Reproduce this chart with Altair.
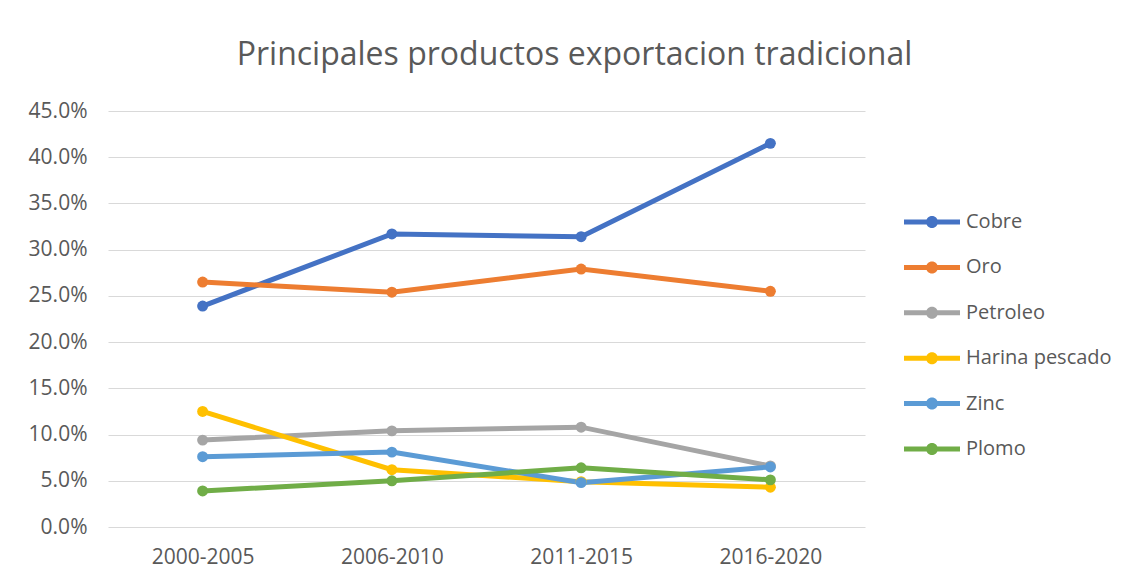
import altair as alt
import pandas as pd

periods = ["2000-2005", "2006-2010", "2011-2015", "2016-2020"]
series = ["Cobre", "Oro", "Petroleo", "Harina pescado", "Zinc", "Plomo"]
cobre = [0.239, 0.317, 0.314, 0.415]
oro = [0.265, 0.254, 0.279, 0.255]
petroleo = [0.094, 0.104, 0.108, 0.066]
harina = [0.125, 0.062, 0.049, 0.043]
zinc = [0.076, 0.081, 0.048, 0.065]
plomo = [0.039, 0.050, 0.064, 0.051]
colors = ["#4472C4", "#ED7D31", "#A5A5A5", "#FFC000", "#5B9BD5", "#70AD47"]

values = [cobre, oro, petroleo, harina, zinc, plomo]
rows = []
for si, (name, vals) in enumerate(zip(series, values)):
    for p, v in zip(periods, vals):
        rows.append({"periodo": p, "producto": name, "valor": v, "orden": si})
df = pd.DataFrame(rows)

FONT = "Open Sans"
GREY = "#595959"

sym_path = ("M-2.8,-0.25L2.8,-0.25L2.8,0.25L-2.8,0.25Z "
            "M-0.6,0A0.6,0.6 0 1,1 0.6,0A0.6,0.6 0 1,1 -0.6,0Z")

color = alt.Color(
    "producto:N",
    scale=alt.Scale(domain=series, range=colors),
    legend=alt.Legend(
        title=None,
        orient="none",
        legendX=814,
        legendY=101,
        symbolType=sym_path,
        symbolSize=400,
        symbolStrokeWidth=0,
        labelOffset=24,
        rowPadding=25.4,
        padding=0,
        labelFont=FONT,
        labelFontSize=20,
        labelColor=GREY,
    ),
)

x = alt.X(
    "periodo:O",
    sort=periods,
    scale=alt.Scale(paddingOuter=0.5, paddingInner=0),
    axis=alt.Axis(title=None, labelAngle=0, ticks=False, domain=False, grid=False,
                  labelPadding=19, labelFont=FONT, labelFontSize=21,
                  labelColor=GREY),
)
y = alt.Y(
    "valor:Q",
    scale=alt.Scale(domain=[0, 0.45], nice=False),
    axis=alt.Axis(title=None, format=".1%", values=[i * 0.05 for i in range(10)],
                  ticks=False, domain=False, labelPadding=21,
                  labelFont=FONT, labelFontSize=21, labelColor=GREY,
                  gridColor="#D9D9D9", gridWidth=1),
)

base = alt.Chart(df)
lines = base.mark_line(strokeWidth=5).encode(x=x, y=y, color=color, order="orden:Q")
points = base.mark_point(filled=True, size=120, opacity=1).encode(x=x, y=y, color=color)

chart = (
    alt.layer(lines, points)
    .properties(
        width=757,
        height=416,
        background="white",
        padding={"left": 100, "top": 103, "right": 255, "bottom": 48},
        autosize=alt.AutoSizeParams(type="none"),
        title=alt.TitleParams(
            "Principales productos exportacion tradicional",
            anchor="middle", dx=88, offset=28,
            font=FONT, fontSize=32, fontWeight="normal", color=GREY,
        ),
    )
    .configure_view(strokeWidth=0)
)

chart.save("out.html", embed_options={"renderer": "svg", "actions": False})
